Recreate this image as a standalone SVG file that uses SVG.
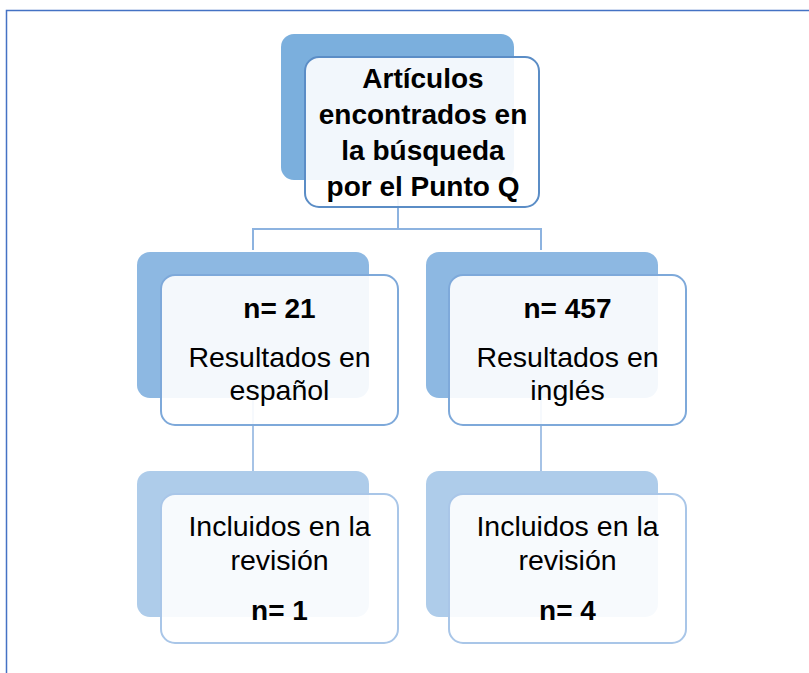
<svg xmlns="http://www.w3.org/2000/svg" width="809" height="673" viewBox="0 0 809 673">
<style>
text{font-family:"Liberation Sans",Arial,sans-serif;font-size:28.5px;fill:#000;text-anchor:middle}
.b{font-weight:bold;font-size:28px}
.front{fill:#ffffff;fill-opacity:0.9;stroke-width:2}
.conn{fill:none;stroke-width:2}
</style>
<rect width="809" height="673" fill="#ffffff"/>
<path d="M6.5,673 V10.5 H809" fill="none" stroke="#4472C4" stroke-width="1.5"/>
<g id="connectors">
<path class="conn" stroke="#8DB3E0" d="M398,180 V229 M253,250 V229 H541 V250"/>
<path class="conn" stroke="#A6C3E6" d="M253,398 V471 M541,398 V471"/>
</g>
<g id="top">
<rect x="281" y="34" width="233" height="146" rx="13" fill="#7BAFDD"/>
<rect class="front" x="305" y="57" width="234" height="150" rx="14" stroke="#5B8DC6"/>
<text class="b" x="423" y="88">Artículos</text>
<text class="b" x="423" y="124">encontrados en</text>
<text class="b" x="423" y="160">la búsqueda</text>
<text class="b" x="423" y="196">por el Punto Q</text>
</g>
<g id="es">
<rect x="137" y="252" width="232" height="146" rx="13" fill="#8DB8E2"/>
<rect class="front" x="161" y="275" width="237" height="150" rx="14" stroke="#7EA9DA"/>
<text class="b" x="279.5" y="318">n= 21</text>
<text x="279.5" y="367">Resultados en</text>
<text x="279.5" y="400">español</text>
</g>
<g id="en">
<rect x="426" y="252" width="232" height="146" rx="13" fill="#8DB8E2"/>
<rect class="front" x="449" y="275" width="237" height="150" rx="14" stroke="#7EA9DA"/>
<text class="b" x="567.5" y="318">n= 457</text>
<text x="567.5" y="367">Resultados en</text>
<text x="567.5" y="400">inglés</text>
</g>
<g id="es-inc">
<rect x="137" y="471" width="232" height="146" rx="13" fill="#AECCEA"/>
<rect class="front" x="161" y="494" width="237" height="149" rx="14" stroke="#A9C6E8"/>
<text x="279.5" y="536">Incluidos en la</text>
<text x="279.5" y="570">revisión</text>
<text class="b" x="279.5" y="620">n= 1</text>
</g>
<g id="en-inc">
<rect x="426" y="471" width="232" height="146" rx="13" fill="#AECCEA"/>
<rect class="front" x="449" y="494" width="237" height="149" rx="14" stroke="#A9C6E8"/>
<text x="567.5" y="536">Incluidos en la</text>
<text x="567.5" y="570">revisión</text>
<text class="b" x="567.5" y="620">n= 4</text>
</g>
</svg>
